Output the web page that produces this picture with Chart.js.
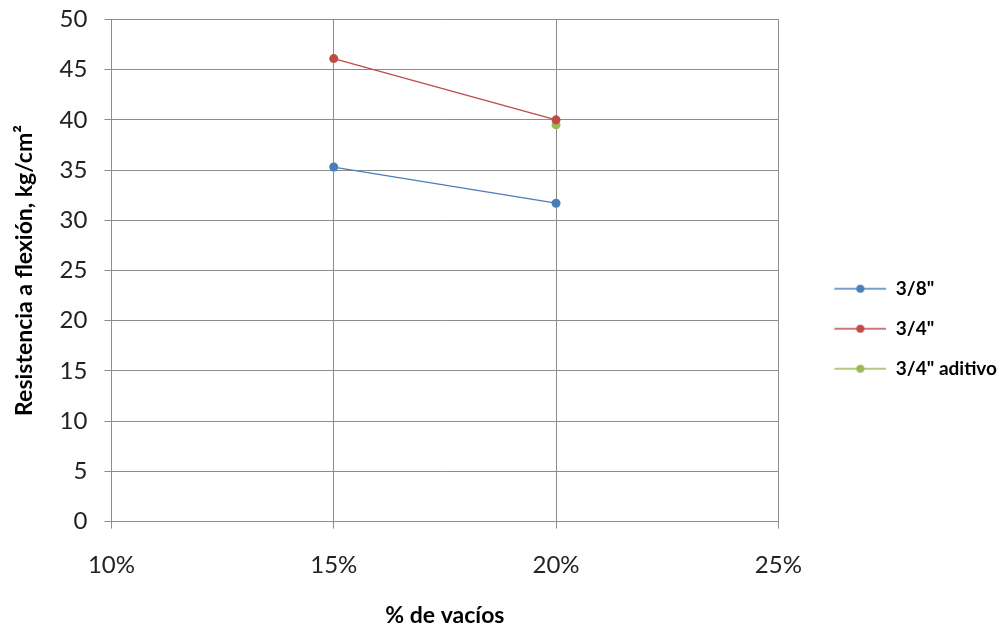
<!DOCTYPE html>
<html>
<head>
<meta charset="utf-8">
<script src="https://cdn.jsdelivr.net/npm/chart.js@4/dist/chart.umd.min.js"></script>
<style>
  html, body { margin: 0; padding: 0; background: #fff; }
  #wrap { width: 1007px; height: 629px; }
</style>
</head>
<body>
<div id="wrap"><canvas id="chart"></canvas></div>
<script>
// values
const vacios = [0.15, 0.20];
const res38 = [35.3, 31.7];
const res34 = [46.1, 40.0];
const vaciosAditivo = [0.20];
const res34Aditivo = [39.5];
const seriesNames = ['3/8"', '3/4"', '3/4" aditivo'];
const seriesColors = ['#4a7ebb', '#be4b48', '#98b954'];
const xTicks = [0.10, 0.15, 0.20, 0.25];
const yTicks = [0, 5, 10, 15, 20, 25, 30, 35, 40, 45, 50];

const FONT = 'Lato, "Liberation Sans", sans-serif';
const ICON_GAP = 35; // empty space left of the legend line

function toPoints(xs, ys) {
    return xs.map((x, i) => ({ x: x, y: ys[i] }));
}

// legend icon: short line with a dot in the middle
function legendIcon(color) {
    const c = document.createElement('canvas');
    c.width = 52 + ICON_GAP;
    c.height = 10;
    const g = c.getContext('2d');
    g.strokeStyle = color;
    g.lineWidth = 1.5;
    g.beginPath();
    g.moveTo(ICON_GAP, 5);
    g.lineTo(ICON_GAP + 52, 5);
    g.stroke();
    g.fillStyle = color;
    g.beginPath();
    g.arc(ICON_GAP + 26, 5, 4, 0, Math.PI * 2);
    g.fill();
    return c;
}
const icons = seriesColors.map(legendIcon);

function makeSet(label, color, data) {
    return {
        label: label,
        data: data,
        showLine: true,
        borderColor: color,
        backgroundColor: color,
        borderWidth: 1.3,
        pointRadius: 4.5,
        pointBorderWidth: 0,
        pointBackgroundColor: color
    };
}

new Chart(document.getElementById('chart'), {
    type: 'scatter',
    data: {
        datasets: [
            makeSet(seriesNames[0], seriesColors[0], toPoints(vacios, res38)),
            makeSet(seriesNames[1], seriesColors[1], toPoints(vacios, res34)),
            makeSet(seriesNames[2], seriesColors[2], toPoints(vaciosAditivo, res34Aditivo))
        ]
    },
    options: {
        responsive: true,
        maintainAspectRatio: false,
        animation: false,
        layout: { padding: { top: 0, right: 0, bottom: 0, left: 11 } },
        scales: {
            x: {
                type: 'linear',
                min: xTicks[0],
                max: xTicks[xTicks.length - 1],
                afterBuildTicks: axis => { axis.ticks = xTicks.map(v => ({ value: v })); },
                ticks: {
                    callback: v => Math.round(v * 100) + '%',
                    font: { family: FONT, size: 24 },
                    color: '#222',
                    padding: 22
                },
                grid: { color: '#8c8c8c', lineWidth: 1, tickLength: 7 },
                border: { color: '#8c8c8c' },
                title: {
                    display: true,
                    text: '% de vacíos',
                    font: { family: FONT, size: 23, weight: 'bold' },
                    color: '#000',
                    padding: { top: 0, bottom: 0 }
                }
            },
            y: {
                min: 0,
                max: 50,
                afterBuildTicks: axis => { axis.ticks = yTicks.map(v => ({ value: v })); },
                ticks: {
                    font: { family: FONT, size: 24 },
                    color: '#222',
                    padding: 5
                },
                // long tick slot, but only the 7px next to the axis is drawn
                grid: {
                    color: '#8c8c8c', lineWidth: 1, tickLength: 19,
                    tickBorderDash: [7, 12], tickBorderDashOffset: 7
                },
                border: { color: '#8c8c8c' },
                title: {
                    display: true,
                    text: 'Resistencia a flexión, kg/cm²',
                    font: { family: FONT, size: 23, weight: 'bold' },
                    color: '#000',
                    padding: { top: 0, bottom: 16 }
                }
            }
        },
        plugins: {
            legend: {
                position: 'right',
                align: 'center',
                title: { display: true, text: ' ', padding: 7, font: { size: 12 } },
                labels: {
                    usePointStyle: true,
                    pointStyleWidth: 52 + ICON_GAP,
                    padding: 21,
                    color: '#000',
                    font: { family: FONT, size: 19, weight: 'bold' },
                    generateLabels: chart => Chart.defaults.plugins.legend.labels.generateLabels(chart)
                        .map((item, i) => Object.assign(item, { pointStyle: icons[i] }))
                }
            },
            tooltip: { enabled: false }
        }
    }
});
</script>
</body>
</html>
